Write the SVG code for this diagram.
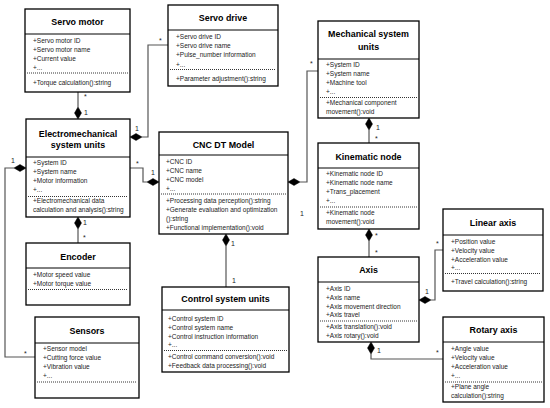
<svg xmlns="http://www.w3.org/2000/svg" width="550" height="408" viewBox="0 0 550 408">
<style>
.box{fill:#fff;stroke:#000;stroke-width:1.3}
.hl{stroke:#000;stroke-width:1}
.dl{stroke:#000;stroke-width:0.8;stroke-dasharray:1 1}
text{font-family:"Liberation Sans",Arial,sans-serif;fill:#000}
.t{font-size:8.9px;font-weight:bold;text-anchor:middle}
.a{font-size:6.5px;fill:#222}
.m{font-size:7px;fill:#222}
.c{fill:none;stroke:#555;stroke-width:1.2}
.d{fill:#000;stroke:#000;stroke-width:0.5}
</style>
<rect width="550" height="408" fill="#fff"/>

<g id="connectors">
  <path class="c" d="M78,92 V107"/>
  <polygon class="d" points="78,107 81.5,113 78,119 74.5,113"/>
  <path class="c" d="M168,45 H148 V137 H142"/>
  <polygon class="d" points="142,137 136,140.5 130,137 136,133.5"/>
  <path class="c" d="M130,168 H143 V182 H147"/>
  <polygon class="d" points="147,182 153,178.5 159,182 153,185.5"/>
  <path class="c" d="M14,168 H5 V357 H35"/>
  <polygon class="d" points="14,168 20,164.5 26,168 20,171.5"/>
  <polygon class="d" points="78,217 81.5,223 78,229 74.5,223"/>
  <path class="c" d="M78,229 V243"/>
  <polygon class="d" points="226,234 229.5,240 226,246 222.5,240"/>
  <path class="c" d="M226,246 V287"/>
  <polygon class="d" points="288,182 294,178.5 300,182 294,185.5"/>
  <path class="c" d="M300,182 H307 V71 H318"/>
  <polygon class="d" points="369,118 372.5,124 369,130 365.5,124"/>
  <path class="c" d="M369,130 V143"/>
  <polygon class="d" points="369,229 372.5,235 369,241 365.5,235"/>
  <path class="c" d="M369,241 V257"/>
  <polygon class="d" points="419,300 425,296.5 431,300 425,303.5"/>
  <path class="c" d="M431,300 H435 V250 H443"/>
  <polygon class="d" points="371,342 374.5,348 371,354 367.5,348"/>
  <path class="c" d="M371,354 V359 H443"/>
  <text class="m" x="84" y="99">*</text>
  <text class="m" x="84" y="115">1</text>
  <text class="m" x="159" y="43">*</text>
  <text class="m" x="135" y="131">1</text>
  <text class="m" x="136" y="166">*</text>
  <text class="m" x="151" y="175">1</text>
  <text class="m" x="11" y="163">1</text>
  <text class="m" x="24" y="356">*</text>
  <text class="m" x="83" y="225">1</text>
  <text class="m" x="83" y="240">*</text>
  <text class="m" x="231" y="246">1</text>
  <text class="m" x="232" y="283">1</text>
  <text class="m" x="310" y="66">*</text>
  <text class="m" x="300" y="216">1</text>
  <text class="m" x="376" y="130">1</text>
  <text class="m" x="375" y="141">*</text>
  <text class="m" x="375" y="238">*</text>
  <text class="m" x="375" y="255">*</text>
  <text class="m" x="425" y="294">1</text>
  <text class="m" x="436" y="246">*</text>
  <text class="m" x="377" y="353">1</text>
  <text class="m" x="436" y="355">*</text>
</g>

<g id="servo-motor">
  <rect class="box" x="25" y="9" width="105" height="83"/>
  <line class="hl" x1="25" y1="34" x2="130" y2="34"/>
  <text class="t" x="77.5" y="25">Servo motor</text>
  <text class="a" x="33" y="43">+Servo motor ID</text>
  <text class="a" x="33" y="52">+Servo motor name</text>
  <text class="a" x="33" y="61">+Current value</text>
  <text class="a" x="33" y="70">+...</text>
  <line class="dl" x1="27" y1="73" x2="128" y2="73"/>
  <text class="a" x="33" y="85">+Torque calculation():string</text>
</g>

<g id="servo-drive">
  <rect class="box" x="168" y="5" width="110" height="81"/>
  <line class="hl" x1="168" y1="30" x2="278" y2="30"/>
  <text class="t" x="223" y="21">Servo drive</text>
  <text class="a" x="176" y="38.5">+Servo drive ID</text>
  <text class="a" x="176" y="47.5">+Servo drive name</text>
  <text class="a" x="176" y="57">+Pulse_number information</text>
  <text class="a" x="176" y="66.5">+...</text>
  <line class="dl" x1="170" y1="69.5" x2="276" y2="69.5"/>
  <text class="a" x="176" y="81">+Parameter adjustment():string</text>
</g>

<g id="electromechanical">
  <rect class="box" x="26" y="119" width="104" height="98"/>
  <line class="hl" x1="26" y1="157" x2="130" y2="157"/>
  <text class="t" x="78" y="136.5">Electromechanical</text>
  <text class="t" x="78" y="148">system units</text>
  <text class="a" x="33" y="165.2">+System ID</text>
  <text class="a" x="33" y="174.2">+System name</text>
  <text class="a" x="33" y="183.2">+Motor information</text>
  <text class="a" x="33" y="192.2">+...</text>
  <line class="dl" x1="28" y1="196.5" x2="128" y2="196.5"/>
  <text class="a" x="33" y="203.2">+Electromechanical data</text>
  <text class="a" x="33" y="212.2">calculation and analysis():string</text>
</g>

<g id="cnc-dt-model">
  <rect class="box" x="159" y="132" width="129" height="102"/>
  <line class="hl" x1="159" y1="155" x2="288" y2="155"/>
  <text class="t" x="223.5" y="147.5">CNC DT Model</text>
  <text class="a" x="166" y="164.2">+CNC ID</text>
  <text class="a" x="166" y="173.2">+CNC name</text>
  <text class="a" x="166" y="182.2">+CNC model</text>
  <text class="a" x="166" y="191.2">+...</text>
  <line class="dl" x1="161" y1="194" x2="286" y2="194"/>
  <text class="a" x="166" y="203.2">+Processing data perception():string</text>
  <text class="a" x="166" y="212.2">+Generate evaluation and optimization</text>
  <text class="a" x="166" y="221.2">():string</text>
  <text class="a" x="166" y="230.2">+Functional implementation():void</text>
</g>

<g id="control-system-units">
  <rect class="box" x="162" y="287" width="127" height="85"/>
  <line class="hl" x1="162" y1="310" x2="289" y2="310"/>
  <text class="t" x="225.5" y="302.3">Control system units</text>
  <text class="a" x="168" y="321.2">+Control system ID</text>
  <text class="a" x="168" y="329.7">+Control system name</text>
  <text class="a" x="168" y="338.7">+Control instruction information</text>
  <text class="a" x="168" y="347.2">+...</text>
  <line class="dl" x1="164" y1="350.5" x2="287" y2="350.5"/>
  <text class="a" x="168" y="359.2">+Control command conversion():void</text>
  <text class="a" x="168" y="368.2">+Feedback data processing():void</text>
</g>

<g id="encoder">
  <rect class="box" x="26" y="243" width="104" height="62"/>
  <line class="hl" x1="26" y1="268" x2="130" y2="268"/>
  <text class="t" x="78" y="259.5">Encoder</text>
  <text class="a" x="33" y="277.2">+Motor speed value</text>
  <text class="a" x="33" y="286.2">+Motor torque value</text>
  <line class="dl" x1="28" y1="289.5" x2="128" y2="289.5"/>
</g>

<g id="sensors">
  <rect class="box" x="35" y="317" width="104" height="81"/>
  <line class="hl" x1="35" y1="343" x2="139" y2="343"/>
  <text class="t" x="87" y="333.5">Sensors</text>
  <text class="a" x="43" y="351.2">+Sensor model</text>
  <text class="a" x="43" y="360.2">+Cutting force value</text>
  <text class="a" x="43" y="369.2">+Vibration value</text>
  <text class="a" x="43" y="378.2">+...</text>
  <line class="dl" x1="37" y1="382" x2="137" y2="382"/>
</g>

<g id="mechanical-system-units">
  <rect class="box" x="318" y="21" width="101" height="97"/>
  <line class="hl" x1="318" y1="59" x2="419" y2="59"/>
  <text class="t" x="368.5" y="36.5">Mechanical system</text>
  <text class="t" x="368.5" y="49.5">units</text>
  <text class="a" x="326" y="67.2">+System ID</text>
  <text class="a" x="326" y="76.2">+System name</text>
  <text class="a" x="326" y="85.2">+Machine tool</text>
  <text class="a" x="326" y="94.2">+...</text>
  <line class="dl" x1="320" y1="97.5" x2="417" y2="97.5"/>
  <text class="a" x="326" y="105.2">+Mechanical component</text>
  <text class="a" x="326" y="114.2">movement():void</text>
</g>

<g id="kinematic-node">
  <rect class="box" x="318" y="143" width="101" height="86"/>
  <line class="hl" x1="318" y1="168" x2="419" y2="168"/>
  <text class="t" x="368.5" y="159.5">Kinematic node</text>
  <text class="a" x="326" y="176.2">+Kinematic node ID</text>
  <text class="a" x="326" y="185.2">+Kinematic node name</text>
  <text class="a" x="326" y="194.2">+Trans_placement</text>
  <text class="a" x="326" y="203.2">+...</text>
  <line class="dl" x1="320" y1="207" x2="417" y2="207"/>
  <text class="a" x="326" y="215.2">+Kinematic node</text>
  <text class="a" x="326" y="223.7">movement():void</text>
</g>

<g id="axis">
  <rect class="box" x="318" y="257" width="101" height="85"/>
  <line class="hl" x1="318" y1="282" x2="419" y2="282"/>
  <text class="t" x="368.5" y="272.5">Axis</text>
  <text class="a" x="326" y="291.2">+Axis ID</text>
  <text class="a" x="326" y="299.7">+Axis name</text>
  <text class="a" x="326" y="308.7">+Axis movement direction</text>
  <text class="a" x="326" y="317.2">+Axis travel</text>
  <line class="dl" x1="320" y1="321" x2="417" y2="321"/>
  <text class="a" x="326" y="329.2">+Axis translation():void</text>
  <text class="a" x="326" y="337.7">+Axis rotary():void</text>
</g>

<g id="linear-axis">
  <rect class="box" x="443" y="209" width="100" height="82"/>
  <line class="hl" x1="443" y1="235" x2="543" y2="235"/>
  <text class="t" x="493" y="225.5">Linear axis</text>
  <text class="a" x="451" y="244.2">+Position value</text>
  <text class="a" x="451" y="253.2">+Velocity value</text>
  <text class="a" x="451" y="261.7">+Acceleration value</text>
  <text class="a" x="451" y="270.2">+...</text>
  <line class="dl" x1="445" y1="273.5" x2="541" y2="273.5"/>
  <text class="a" x="451" y="284.2">+Travel  calculation():string</text>
</g>

<g id="rotary-axis">
  <rect class="box" x="443" y="317" width="101" height="85"/>
  <line class="hl" x1="443" y1="342" x2="544" y2="342"/>
  <text class="t" x="493.5" y="332.5">Rotary axis</text>
  <text class="a" x="451" y="351.2">+Angle value</text>
  <text class="a" x="451" y="360.2">+Velocity value</text>
  <text class="a" x="451" y="369.2">+Acceleration value</text>
  <text class="a" x="451" y="378.2">+...</text>
  <line class="dl" x1="445" y1="382" x2="542" y2="382"/>
  <text class="a" x="451" y="389.2">+Plane angle</text>
  <text class="a" x="451" y="398.2">calculation():string</text>
</g>
</svg>
